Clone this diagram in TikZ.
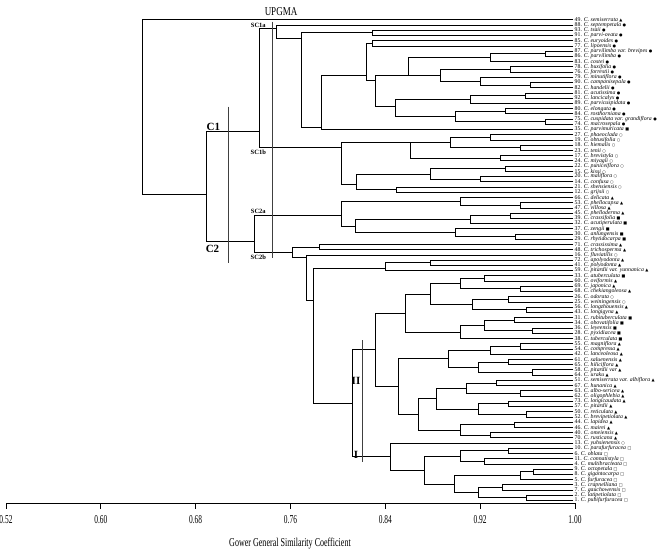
\documentclass[tikz,border=0pt]{standalone}
\usepackage{fontspec}
\setmainfont{Liberation Serif}
\newfontfamily\symf{DejaVu Sans}
\newfontfamily\narrowf[FakeStretch=0.62]{Liberation Serif}
\newfontfamily\axtf[FakeStretch=0.67]{Liberation Serif}
\newfontfamily\titlef[FakeStretch=0.75]{Liberation Serif}
\usetikzlibrary{calc}
\newcommand\mkTri{{\symf\fontsize{4}{4}\selectfont ▲}}
\newcommand\mkDot{{\symf\fontsize{4}{4}\selectfont ●}}
\newcommand\mkCirc{{\symf\fontsize{4}{4}\selectfont ○}}
\newcommand\mkSq{{\symf\fontsize{4}{4}\selectfont ■}}
\newcommand\mkBox{{\symf\fontsize{4}{4}\selectfont □}}
\tikzset{
  br/.style={line width=0.8pt, line cap=rect},
  leaf/.style={anchor=west, inner xsep=1.5pt, inner ysep=0pt, font=\fontsize{5.8}{6}\selectfont},
  cut/.style={line width=0.7pt, draw=black!75},
  sclab/.style={font=\bfseries\fontsize{6.5}{6.5}\selectfont, inner sep=0pt},
  clab/.style={font=\bfseries\fontsize{11}{11}\selectfont, inner sep=0pt},
  ticklab/.style={font=\narrowf\fontsize{12}{12}\selectfont, inner sep=0pt},
}
\newcommand\lf[2]{\coordinate (r#1) at (573,{19.8+(#1-1)*5.225}); \node[leaf] (t#1) at (r#1) {#2};}
\newcommand\jn[4]{\path let \p1=(#3), \p2=(#4) in (#2pt,{0.5*(\y1+\y2)}) coordinate (#1);
  \draw[br] (#3) -- (#3 -| #1) -- (#4 -| #1) -- (#4);}
\newcommand\jy[5]{\coordinate (#1) at (#2,#3);
  \draw[br] (#4) -- (#4 -| #1) -- (#5 -| #1) -- (#5);}
\begin{document}
\begin{tikzpicture}[x=1pt,y=-1pt]
\path[use as bounding box] (0,0) rectangle (661,552);
% leaves
\lf{1}{49. \textit{C. semiserrata} \mkTri}
\lf{2}{88. \textit{C. septempetala} \mkDot}
\lf{3}{93. \textit{C. tsaii} \mkDot}
\lf{4}{91. \textit{C. parvi-ovata} \mkDot}
\lf{5}{85. \textit{C. euryoides} \mkDot}
\lf{6}{77. \textit{C. lipoensis} \mkDot}
\lf{7}{87. \textit{C. parvilimba var. brevipes} \mkDot}
\lf{8}{86. \textit{C. parvilimba} \mkDot}
\lf{9}{83. \textit{C. costei} \mkDot}
\lf{10}{78. \textit{C. buxifolia} \mkDot}
\lf{11}{76. \textit{C. forrestii} \mkDot}
\lf{12}{79. \textit{C. minutiflora} \mkDot}
\lf{13}{90. \textit{C. campanisepala} \mkDot}
\lf{14}{82. \textit{C. handelii} \mkDot}
\lf{15}{81. \textit{C. acutissima} \mkDot}
\lf{16}{92. \textit{C. lancicalyx} \mkDot}
\lf{17}{89. \textit{C. parvicuspidata} \mkDot}
\lf{18}{80. \textit{C. elongata} \mkDot}
\lf{19}{84. \textit{C. rosthorniana} \mkDot}
\lf{20}{75. \textit{C. cuspidata var. grandiflora} \mkDot}
\lf{21}{74. \textit{C. macrosepala} \mkDot}
\lf{22}{35. \textit{C. parvimuricata} \mkSq}
\lf{23}{27. \textit{C. phaeoclada} \mkCirc}
\lf{24}{19. \textit{C. obtusifolia} \mkCirc}
\lf{25}{18. \textit{C. hiemalis} \mkCirc}
\lf{26}{23. \textit{C. tenii} \mkCirc}
\lf{27}{17. \textit{C. brevistyla} \mkCirc}
\lf{28}{24. \textit{C. miyagii} \mkCirc}
\lf{29}{22. \textit{C. puniceiflora} \mkCirc}
\lf{30}{15. \textit{C. kissi} \mkCirc}
\lf{31}{20. \textit{C. maliflora} \mkCirc}
\lf{32}{14. \textit{C. confusa} \mkCirc}
\lf{33}{21. \textit{C. shensiensis} \mkCirc}
\lf{34}{12. \textit{C. grijsii} \mkCirc}
\lf{35}{66. \textit{C. delicata} \mkTri}
\lf{36}{53. \textit{C. phellocapsa} \mkTri}
\lf{37}{47. \textit{C. villosa} \mkTri}
\lf{38}{45. \textit{C. phelloderma} \mkTri}
\lf{39}{39. \textit{C. crassifolia} \mkSq}
\lf{40}{32. \textit{C. acutiperulata} \mkSq}
\lf{41}{37. \textit{C. zengii} \mkSq}
\lf{42}{30. \textit{C. anlungensis} \mkSq}
\lf{43}{29. \textit{C. rhytidocarpa} \mkSq}
\lf{44}{71. \textit{C. crassissima} \mkTri}
\lf{45}{48. \textit{C. trichosperma} \mkTri}
\lf{46}{16. \textit{C. fluviatilis} \mkCirc}
\lf{47}{72. \textit{C. apolyodonta} \mkTri}
\lf{48}{41. \textit{C. polyodonta} \mkTri}
\lf{49}{59. \textit{C. pitardii var. yunnanica} \mkTri}
\lf{50}{33. \textit{C. atuberculata} \mkSq}
\lf{51}{60. \textit{C. oviformis} \mkTri}
\lf{52}{69. \textit{C. japonica} \mkTri}
\lf{53}{68. \textit{C. chekiangoleosa} \mkTri}
\lf{54}{26. \textit{C. odorata} \mkCirc}
\lf{55}{25. \textit{C. weiningensis} \mkCirc}
\lf{56}{56. \textit{C. longzhouensis} \mkTri}
\lf{57}{43. \textit{C. longigyna} \mkTri}
\lf{58}{31. \textit{C. rubituberculata} \mkSq}
\lf{59}{34. \textit{C. obovatifolia} \mkSq}
\lf{60}{36. \textit{C. leyeensis} \mkSq}
\lf{61}{28. \textit{C. pyxidiacea} \mkSq}
\lf{62}{38. \textit{C. tuberculata} \mkSq}
\lf{63}{55. \textit{C. magniflora} \mkTri}
\lf{64}{54. \textit{C. compressa} \mkTri}
\lf{65}{42. \textit{C. lanceoleosa} \mkTri}
\lf{66}{61. \textit{C. saluenensis} \mkTri}
\lf{67}{65. \textit{C. hiliciflora} \mkTri}
\lf{68}{58. \textit{C. pitardii var} \mkTri}
\lf{69}{64. \textit{C. uraku} \mkTri}
\lf{70}{51. \textit{C. semiserrata var. albiflora} \mkTri}
\lf{71}{67. \textit{C. hunanica} \mkTri}
\lf{72}{63. \textit{C. albo-sericea} \mkTri}
\lf{73}{62. \textit{C. oligophlebia} \mkTri}
\lf{74}{73. \textit{C. longicaudata} \mkTri}
\lf{75}{57. \textit{C. pitardii} \mkTri}
\lf{76}{50. \textit{C. reticulata} \mkTri}
\lf{77}{52. \textit{C. brevipetiolata} \mkTri}
\lf{78}{44. \textit{C. lapidea} \mkTri}
\lf{79}{46. \textit{C. mairei} \mkTri}
\lf{80}{40. \textit{C. omeiensis} \mkTri}
\lf{81}{70. \textit{C. rusticana} \mkTri}
\lf{82}{13. \textit{C. yuhsienensis} \mkCirc}
\lf{83}{10. \textit{C. parafurfuracea} \mkBox}
\lf{84}{6. \textit{C. oblata} \mkBox}
\lf{85}{11. \textit{C. connatistyla} \mkBox}
\lf{86}{4. \textit{C. multibracteata} \mkBox}
\lf{87}{9. \textit{C. octopetala} \mkBox}
\lf{88}{8. \textit{C. gigantocarpa} \mkBox}
\lf{89}{5. \textit{C. furfuracea} \mkBox}
\lf{90}{3. \textit{C. crapnelliana} \mkBox}
\lf{91}{7. \textit{C. gauchowensis} \mkBox}
\lf{92}{2. \textit{C. latipetiolata} \mkBox}
\lf{93}{1. \textit{C. pubifurfuracea} \mkBox}
% SC1a
\jn{Q34}{372}{r3}{r4}
\jn{Q56}{372}{r5}{r6}
\jn{Y1a}{545}{r7}{r8}
\jn{Y1}{490}{Y1a}{r9}
\jn{Y2a}{510}{r10}{r11}
\jn{Y2b}{530}{r13}{r14}
\jn{Y2c}{480}{r12}{Y2b}
\jn{Y2}{440}{Y2a}{Y2c}
\jy{Y}{408}{75}{Y1}{Y2}
\jn{Z1a}{525}{r15}{r16}
\jn{Z1}{470}{Z1a}{r17}
\jn{Z2a}{505}{r18}{r19}
\jn{Z2b}{545}{r20}{r21}
\jn{Z2}{455}{Z2a}{Z2b}
\jy{Zz}{395}{106}{Z1}{Z2}
\jy{X}{375}{80}{Y}{Zz}
\jy{W}{366}{75}{Q56}{X}
\jy{R}{321}{127.3}{W}{r22}
\jy{P}{301.7}{38.3}{Q34}{R}
\jy{S1a}{276.7}{28.3}{r2}{P}
% SC1b
\jn{G1a}{490}{r23}{r24}
\jn{G1b}{520}{r25}{r26}
\jn{G1}{450}{G1a}{G1b}
\jn{G2}{500}{r27}{r28}
\jy{G}{410}{142.7}{G1}{G2}
\jn{H1}{505}{r29}{r30}
\jn{H2}{480}{r31}{r32}
\jn{H}{430}{H1}{H2}
\jn{Q3334}{396.7}{r33}{r34}
\jy{Hh}{356.7}{184.3}{H}{Q3334}
\jy{S1b}{341.7}{147.3}{G}{Hh}
\jy{CI}{259.3}{131.7}{S1a}{S1b}
% SC2a
\jn{K1a}{520}{r36}{r37}
\jn{K1}{460}{r35}{K1a}
\jn{K21a}{510}{r38}{r39}
\jn{K21}{470}{K21a}{r40}
\jn{K22a}{515}{r42}{r43}
\jn{K22}{455}{r41}{K22a}
\jy{K2}{355}{226}{K21}{K22}
\jy{S2a}{341.7}{215.7}{K1}{K2}
% SC2b
\jn{Q4445}{319}{r44}{r45}
\jn{L47}{430}{r47}{r48}
\jy{L}{385}{268.3}{L47}{r49}
\jn{Ma1}{484}{r50}{r51}
\jn{Ma2}{520}{r52}{r53}
\jn{Ma3}{460}{Ma1}{Ma2}
\jn{Ma5}{508}{r54}{r55}
\jn{Ma6}{526}{r56}{r57}
\jn{Ma7}{472}{Ma5}{Ma6}
\jn{Ma8}{430}{Ma3}{Ma7}
\jn{Ma9}{514}{r58}{r59}
\jn{Ma10}{532}{r60}{r61}
\jn{Ma11}{484}{Ma9}{Ma10}
\jn{Ma12}{460}{Ma11}{r62}
\jn{Ma}{405}{Ma8}{Ma12}
\jn{Mb1}{520}{r63}{r64}
\jn{Mb2}{490}{Mb1}{r65}
\jn{Mb3}{508}{r66}{r67}
\jn{Mb4}{532}{r68}{r69}
\jn{Mb5}{478}{Mb3}{Mb4}
\jn{Mb6}{448}{Mb2}{Mb5}
\jn{Mb7}{496}{r70}{r71}
\jn{Mb8}{520}{r72}{r73}
\jn{Mb9}{466}{Mb7}{Mb8}
\jn{Mb10}{508}{r74}{r75}
\jn{Mb11}{526}{r76}{r77}
\jn{Mb12}{478}{Mb10}{Mb11}
\jn{Mb13}{436}{Mb9}{Mb12}
\jn{Mb14}{514}{r78}{r79}
\jn{Mb15}{490}{r80}{r81}
\jn{Mb16}{460}{Mb14}{Mb15}
\jn{Mb17}{418}{Mb13}{Mb16}
\jn{Mb}{398}{Mb6}{Mb17}
\jn{MI}{375}{Ma}{Mb}
\jn{Q1}{508}{r83}{r84}
\jn{Q2}{484}{r85}{r86}
\jn{Q3}{460}{Q1}{Q2}
\jn{Q4}{533}{r87}{r88}
\jn{Q5}{520}{Q4}{r89}
\jn{Q6}{502}{r90}{r91}
\jn{Q7}{526}{r92}{r93}
\jn{Q8}{478}{Q6}{Q7}
\jn{Q9}{454}{Q5}{Q8}
\jn{Q10}{424}{Q3}{Q9}
\jn{MII}{390}{r82}{Q10}
\jn{Zb}{352}{MI}{MII}
\jy{Za}{313.3}{300}{L}{Zb}
\jy{N306}{306.7}{257.3}{r46}{Za}
\jy{S2b}{292.7}{252.3}{Q4445}{N306}
\jy{CII}{254.3}{241.7}{S2a}{S2b}
\jy{N2}{206.7}{194}{CI}{CII}
\jy{Root}{142.7}{100}{r1}{N2}
% cut lines and labels
\draw[cut] (228.3,106.7) -- (228.3,263.3);
\draw[cut] (272.7,21.7) -- (272.7,258.3);
\draw[cut] (362,340) -- (362,462);
\node[clab] (lC1) at (213.3,127) {C1};
\node[clab] (lC2) at (212.5,249) {C2};
\node[sclab] (lSa) at (258.3,25) {SC1a};
\node[sclab] (lSb) at (258.3,152) {SC1b};
\node[sclab] (lSc) at (258.3,211.7) {SC2a};
\node[sclab] (lSd) at (258.3,257) {SC2b};
\node[clab] (lII) at (356,381) {II};
\node[clab] (lI) at (356,455) {I};
\node[font=\titlef\fontsize{12}{12}\selectfont, inner sep=0pt] (title) at (281,12) {UPGMA};
% axis
\coordinate (ax0) at (6,503);
\coordinate (ax1) at (575,503);
\draw[line width=0.8pt] (ax0) -- (ax1);
\foreach \v [count=\i from 0] in {0.52,0.60,0.68,0.76,0.84,0.92,1.00}{
  \draw[line width=0.8pt] ({6+\i*94.83},503) -- ({6+\i*94.83},509);
  \node[ticklab] (tk\i) at ({6+\i*94.83},520) {\v};
}
\node[font=\axtf\fontsize{12}{12}\selectfont, inner sep=0pt] (axtitle) at (290,544) {Gower General Similarity Coefficient};
\end{tikzpicture}
\end{document}
